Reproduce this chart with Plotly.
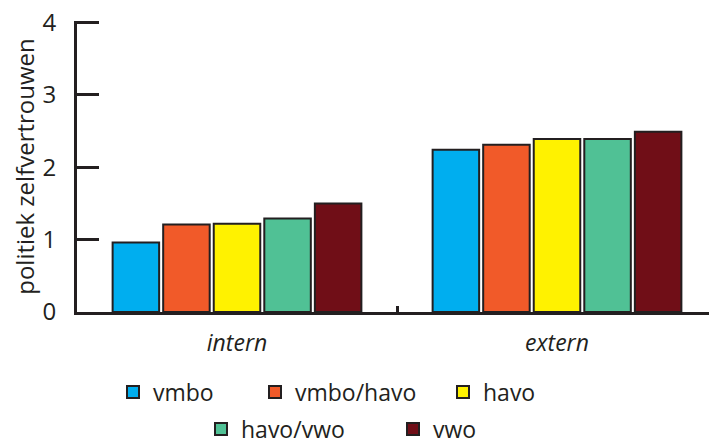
import plotly.graph_objects as go

categories = ["intern", "extern"]
series_names = ["vmbo", "vmbo/havo", "havo", "havo/vwo", "vwo"]
values = {
    "vmbo": [0.96, 2.24],
    "vmbo/havo": [1.21, 2.31],
    "havo": [1.22, 2.39],
    "havo/vwo": [1.29, 2.39],
    "vwo": [1.50, 2.49],
}
colors = ["#00aeef", "#f15a29", "#fff200", "#50c195", "#700e17"]
y_ticks = [0, 1, 2, 3, 4]

# The page body adds an 8px offset; the figure is sized so it ends at the window edge.
OFFSET = 8
W, H = 717 - OFFSET, 443 - OFFSET

# legend placement in figure pixels (left edge, vertical centre)
legend_x = [105, 247, 435, 193, 385]
legend_y = [384, 384, 384, 421, 421]

FONT = "Open Sans"
DARK = "#231f20"

fig = go.Figure()
legend_layout = {}
for i, (name, color) in enumerate(zip(series_names, colors)):
    lid = "legend" if i == 0 else f"legend{i + 1}"
    fig.add_trace(go.Bar(
        x=categories, y=values[name], name=name,
        marker=dict(color=color, line=dict(color=DARK, width=2)),
        legend=lid,
    ))
    legend_layout[lid] = dict(
        orientation="h", xref="container", yref="container",
        x=legend_x[i] / W, xanchor="left",
        y=1 - legend_y[i] / H, yanchor="middle",
        font=dict(size=23, family=FONT, color=DARK),
        bgcolor="rgba(0,0,0,0)", borderwidth=0,
    )

fig.update_layout(
    width=W, height=H,
    margin=dict(l=77 - OFFSET, r=0, t=21 - OFFSET, b=131, autoexpand=False),
    paper_bgcolor="white", plot_bgcolor="white",
    barmode="group", bargap=0.21, bargroupgap=0.08,
    font=dict(family=FONT, color=DARK),
    showlegend=True,
    **legend_layout,
)
fig.update_xaxes(
    type="category", range=[-0.5, 1.5], automargin=False,
    showline=True, linecolor=DARK, linewidth=3,
    tickson="boundaries", ticks="inside", ticklen=6, tickwidth=3, tickcolor=DARK,
    tickfont=dict(size=23, family=FONT, style="italic", color=DARK),
    ticklabelstandoff=8,
    showgrid=False, zeroline=False,
)
fig.update_yaxes(
    range=[0, 4.02], tickvals=y_ticks, ticktext=[str(v) for v in y_ticks],
    automargin=False, ticklabeloverflow="allow",
    showline=True, linecolor=DARK, linewidth=3,
    ticks="inside", ticklen=22, tickwidth=3, tickcolor=DARK,
    tickfont=dict(size=24, family=FONT, color=DARK),
    ticklabelstandoff=13,
    showgrid=False, zeroline=False,
    title=dict(text="politiek zelfvertrouwen", font=dict(size=24, family=FONT, color=DARK), standoff=4),
)

fig.write_html("out.html")
